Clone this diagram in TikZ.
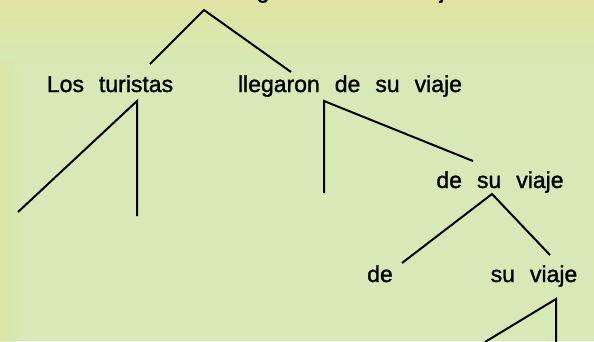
\documentclass[tikz,border=0pt]{standalone}
\usepackage{fontspec}
\setmainfont{Liberation Sans}
\newfontfamily\reffont[FakeBold=1.3]{Liberation Sans}
\definecolor{bggreen}{RGB}{214,233,182}
\definecolor{bgyellow}{RGB}{224,228,160}
\tikzset{
  word/.style={anchor=base, inner sep=0pt, text=black,
    font={\reffont\fontsize{23}{23}\selectfont\spaceskip=15pt plus 1pt}},
  branch/.style={line width=2pt, line cap=butt}
}
\begin{document}
\begin{tikzpicture}[x=1pt,y=-1pt]
\useasboundingbox (0,0) rectangle (594,341);
\fill[bggreen] (0,0) rectangle (594,341);
\shade[top color=bgyellow, bottom color=bggreen] (0,0) rectangle (594,70);
\shade[left color=bgyellow, right color=bggreen, opacity=0.6] (0,60) rectangle (20,341);

% nodes
\node[word] (s) at (275,-2) {Los turistas llegaron de su viaje};
\node[word] (np) at (110,92) {Los turistas};
\node[word] (vp) at (350,92) {llegaron de su viaje};
\node[word] (pp) at (500,188) {de su viaje};
\node[word] (p) at (380,282) {de};
\node[word] (dp) at (534,282) {su viaje};

% branch points
\coordinate (s-apex) at (204,10);
\coordinate (np-top) at (150,64);
\coordinate (vp-top) at (291,72);
\coordinate (np-apex) at (137,101);
\coordinate (np-l) at (18,212);
\coordinate (np-r) at (137,216);
\coordinate (vp-apex) at (324,101);
\coordinate (vp-l) at (324,193);
\coordinate (pp-top) at (473,161);
\coordinate (pp-apex) at (492,194);
\coordinate (p-top) at (402,263);
\coordinate (dp-top) at (550,255);
\coordinate (dp-apex) at (556,299);
\coordinate (dp-l) at (485,342);
\coordinate (dp-r) at (556,345);

\draw[branch] (np-top) -- (s-apex) -- (vp-top);
\draw[branch] (np-l) -- (np-apex) -- (np-r);
\draw[branch] (vp-l) -- (vp-apex) -- (pp-top);
\draw[branch] (p-top) -- (pp-apex) -- (dp-top);
\draw[branch] (dp-l) -- (dp-apex) -- (dp-r);
\end{tikzpicture}
\end{document}
